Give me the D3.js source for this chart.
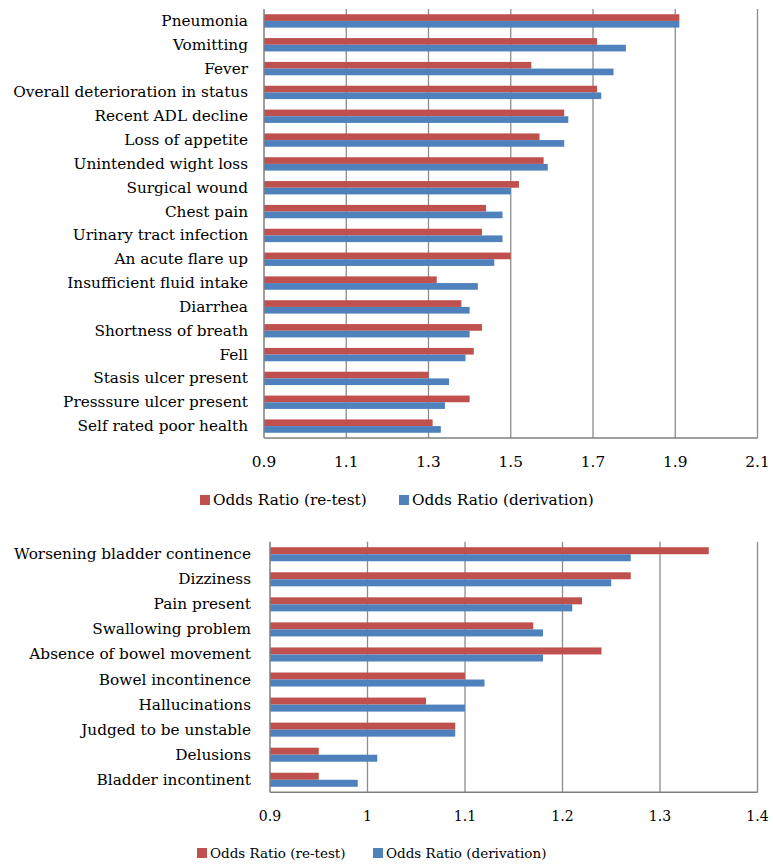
<!DOCTYPE html>
<html>
<head>
<meta charset="utf-8">
<script src="https://cdn.jsdelivr.net/npm/d3@7"></script>
<style>
  body { margin: 0; background: #fff; }
  svg text { font-family: "DejaVu Serif", "Liberation Serif", serif; fill: #000; }
</style>
</head>
<body>
<div id="chart"></div>
<script>
// Top chart data
const topCategories = [
    "Pneumonia", "Vomitting", "Fever", "Overall deterioration in status",
    "Recent ADL decline", "Loss of appetite", "Unintended wight loss",
    "Surgical wound", "Chest pain", "Urinary tract infection",
    "An acute flare up", "Insufficient fluid intake", "Diarrhea",
    "Shortness of breath", "Fell", "Stasis ulcer present",
    "Presssure ulcer present", "Self rated poor health"
];
const topRetest = [1.91, 1.71, 1.55, 1.71, 1.63, 1.57, 1.58, 1.52, 1.44, 1.43, 1.50, 1.32, 1.38, 1.43, 1.41, 1.30, 1.40, 1.31];
const topDerivation = [1.91, 1.78, 1.75, 1.72, 1.64, 1.63, 1.59, 1.50, 1.48, 1.48, 1.46, 1.42, 1.40, 1.40, 1.39, 1.35, 1.34, 1.33];
const topTicks = [0.9, 1.1, 1.3, 1.5, 1.7, 1.9, 2.1];
const topTickLabels = ["0.9", "1.1", "1.3", "1.5", "1.7", "1.9", "2.1"];

// Bottom chart data
const bottomCategories = [
    "Worsening bladder continence", "Dizziness", "Pain present",
    "Swallowing problem", "Absence of bowel movement", "Bowel incontinence",
    "Hallucinations", "Judged to be unstable", "Delusions", "Bladder incontinent"
];
const bottomRetest = [1.35, 1.27, 1.22, 1.17, 1.24, 1.10, 1.06, 1.09, 0.95, 0.95];
const bottomDerivation = [1.27, 1.25, 1.21, 1.18, 1.18, 1.12, 1.10, 1.09, 1.01, 0.99];
const bottomTicks = [0.9, 1.0, 1.1, 1.2, 1.3, 1.4];
const bottomTickLabels = ["0.9", "1", "1.1", "1.2", "1.3", "1.4"];

const seriesNames = ["Odds Ratio (re-test)", "Odds Ratio (derivation)"];
const seriesColors = ["#C0504D", "#4F81BD"];

const width = 773;
const height = 865;

const svg = d3.select("#chart")
    .append("svg")
    .attr("width", width)
    .attr("height", height);

function drawChart(opts) {
    const g = svg.append("g");

    const x = d3.scaleLinear()
        .domain([opts.ticks[0], opts.ticks[opts.ticks.length - 1]])
        .range([opts.left, opts.right]);

    const y = d3.scaleBand()
        .domain(opts.categories)
        .range([opts.top, opts.bottom])
        .paddingInner(0.44)
        .paddingOuter(0.22);

    const sub = d3.scaleBand()
        .domain(seriesNames)
        .range([0, y.bandwidth()]);

    // Gridlines
    g.selectAll(".grid")
        .data(opts.ticks.slice(1))
        .enter()
        .append("line")
        .attr("x1", (d) => x(d))
        .attr("x2", (d) => x(d))
        .attr("y1", opts.top)
        .attr("y2", opts.bottom)
        .attr("stroke", "#8c8c8c")
        .attr("stroke-width", 1.3);

    // Rows of data
    const rows = opts.categories.map((c, i) => ({
        category: c,
        values: [opts.retest[i], opts.derivation[i]]
    }));

    const rowGroups = g.selectAll(".row")
        .data(rows)
        .enter()
        .append("g")
        .attr("transform", (d) => `translate(0, ${y(d.category)})`);

    rowGroups.selectAll("rect")
        .data((d) => d.values.map((v, j) => ({ series: seriesNames[j], value: v, color: seriesColors[j] })))
        .enter()
        .append("rect")
        .attr("x", x(opts.ticks[0]))
        .attr("y", (d) => sub(d.series))
        .attr("width", (d) => x(d.value) - x(opts.ticks[0]))
        .attr("height", sub.bandwidth())
        .attr("fill", (d) => d.color);

    // Axes lines
    g.append("line")
        .attr("x1", opts.left).attr("x2", opts.left)
        .attr("y1", opts.top).attr("y2", opts.bottom)
        .attr("stroke", "#7f7f7f").attr("stroke-width", 1.5);
    g.append("line")
        .attr("x1", opts.left).attr("x2", opts.right)
        .attr("y1", opts.bottom).attr("y2", opts.bottom)
        .attr("stroke", "#7f7f7f").attr("stroke-width", 1.5);

    // Category labels
    g.selectAll(".cat-label")
        .data(opts.categories)
        .enter()
        .append("text")
        .attr("x", opts.left - opts.labelGap)
        .attr("y", (d) => y(d) + y.bandwidth() / 2)
        .attr("text-anchor", "end")
        .attr("dominant-baseline", "central")
        .style("font-size", "15.3px")
        .text((d) => d);

    // Tick labels
    g.selectAll(".tick-label")
        .data(opts.ticks)
        .enter()
        .append("text")
        .attr("x", (d) => x(d))
        .attr("y", opts.bottom + 24)
        .attr("text-anchor", "middle")
        .attr("dominant-baseline", "central")
        .style("font-size", opts.tickFont)
        .text((d, i) => opts.tickLabels[i]);

    // Legend
    const legend = g.selectAll(".legend")
        .data(seriesNames)
        .enter()
        .append("g")
        .attr("transform", (d, i) => `translate(${opts.legendX[i]}, ${opts.legendY})`);

    legend.append("rect")
        .attr("x", 0)
        .attr("y", -5)
        .attr("width", 10)
        .attr("height", 10)
        .attr("fill", (d, i) => seriesColors[i]);

    legend.append("text")
        .attr("x", 13)
        .attr("y", 0)
        .attr("dominant-baseline", "central")
        .style("font-size", opts.legendFont)
        .text((d) => d);
}

drawChart({
    categories: topCategories,
    retest: topRetest,
    derivation: topDerivation,
    ticks: topTicks,
    tickLabels: topTickLabels,
    left: 264, right: 757.5, top: 9, bottom: 438,
    labelGap: 16,
    tickFont: "15.3px",
    legendFont: "15.3px",
    legendX: [200, 399],
    legendY: 500
});

drawChart({
    categories: bottomCategories,
    retest: bottomRetest,
    derivation: bottomDerivation,
    ticks: bottomTicks,
    tickLabels: bottomTickLabels,
    left: 270, right: 757.5, top: 541.7, bottom: 792.3,
    labelGap: 19,
    tickFont: "14px",
    legendFont: "13.5px",
    legendX: [197, 373],
    legendY: 853
});
</script>
</body>
</html>
